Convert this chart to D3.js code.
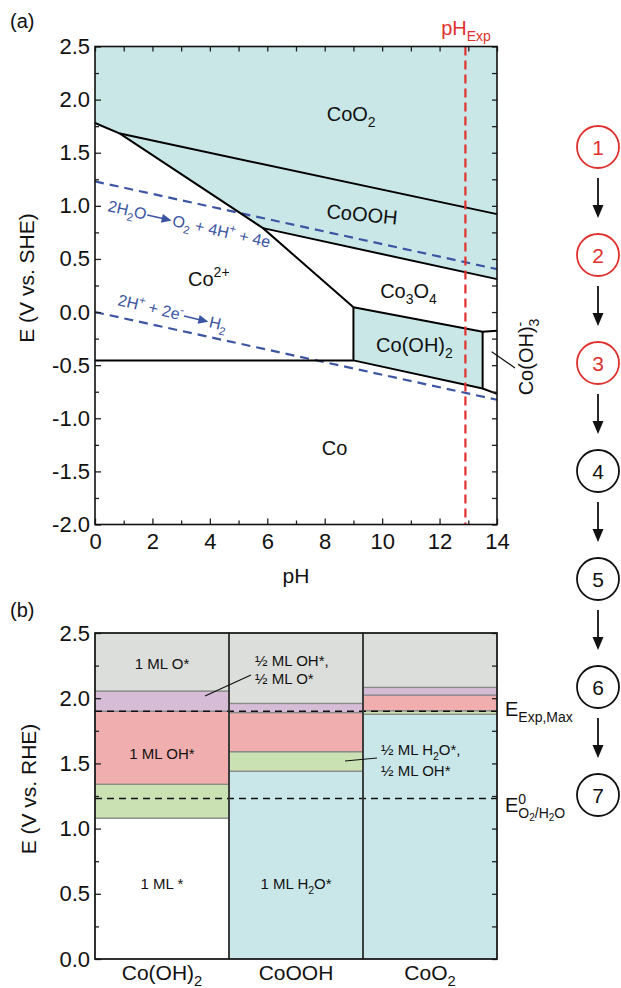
<!DOCTYPE html>
<html>
<head>
<meta charset="utf-8">
<script src="https://cdn.jsdelivr.net/npm/d3@7"></script>
<style>
  body { margin: 0; background: #fff; }
  svg { display: block; font-family: "Liberation Sans", Arial, sans-serif; }
</style>
</head>
<body>
<div id="graphic"></div>
<script>
// ---- (a) Pourbaix diagram data: [pH, E vs SHE] ----
var phDomain = [0, 14];
var sheDomain = [-2, 2.5];
var phTicks = [0, 2, 4, 6, 8, 10, 12, 14];
var phMinor = [1, 3, 5, 7, 9, 11, 13];
var sheTicks = [-2, -1.5, -1, -0.5, 0, 0.5, 1, 1.5, 2, 2.5];
var sheMinor = [-1.75, -1.25, -0.75, -0.25, 0.25, 0.75, 1.25, 1.75, 2.25];

var coO2Boundary = [[0.87, 1.68], [14, 0.922]];
var co2PlusBoundary = [[0, 1.78], [0.87, 1.68], [5.85, 0.79], [9, 0.045]];
var coOOHBoundary = [[5.85, 0.79], [14, 0.31]];
var coOH2Upper = [[9, 0.045], [13.5, -0.185], [14, -0.175]];
var coBoundary = [[0, -0.455], [9, -0.455], [13.5, -0.72], [14, -0.77]];
var coOH2Left = [[9, -0.455], [9, 0.045]];
var coOH2Right = [[13.5, -0.72], [13.5, -0.185]];
var oxideRegion = [[0, 2.5], [14, 2.5], [14, 0.31], [5.85, 0.79], [0.87, 1.68], [0, 1.78]];
var coOH2Region = [[9, 0.045], [13.5, -0.185], [13.5, -0.72], [9, -0.455]];
var o2Line = [[0, 1.23], [14, 0.404]];
var h2Line = [[0, 0], [14, -0.826]];
var phExp = 12.9;

// ---- (b) surface coverage data: E vs RHE ----
var catalysts = ["Co(OH)_2", "CoOOH", "CoO_2"];
var rheTicks = [0, 0.5, 1, 1.5, 2, 2.5];
var rheMinor = [0.25, 0.75, 1.25, 1.75, 2.25];
var levelsCoOH2 = [0, 1.08, 1.34, 1.90, 2.055, 2.5];
var levelsCoOOH = [0, 1.44, 1.59, 1.89, 1.96, 2.5];
var levelsCoO2 = [0, 1.877, 1.904, 2.024, 2.083, 2.5];
var statesCoOH2 = ["bare", "h2o_oh", "oh", "oh_o", "o"];
var statesCoOOH = ["h2o", "h2o_oh", "oh", "oh_o", "o"];
var statesCoO2 = ["h2o", "h2o_oh", "oh", "oh_o", "o"];
var eExpMax = 1.90;
var eO2H2O = 1.23;

// ---- steps ----
var steps = [1, 2, 3, 4, 5, 6, 7];
var redSteps = [1, 2, 3];

var stateColor = {bare: "#ffffff", h2o: "#c9e7e8", h2o_oh: "#c9e1b3", oh: "#f0aeae", oh_o: "#d6bcd6", o: "#dcdedb"};
var red = "#e0312f", blue = "#3b55a2";

var svg = d3.select("#graphic").append("svg").attr("width", 621).attr("height", 988);

function parse(str) {
  var out = [], re = /_\{([^}]*)\}|\^\{([^}]*)\}|_(.)|\^(.)|([^_^]+)/g, m;
  while ((m = re.exec(str))) {
    if (m[1] !== undefined) out.push([m[1], 1]);
    else if (m[2] !== undefined) out.push([m[2], -1]);
    else if (m[3] !== undefined) out.push([m[3], 1]);
    else if (m[4] !== undefined) out.push([m[4], -1]);
    else out.push([m[5], 0]);
  }
  return out;
}

// segments: [text, level, stacked]; level 0 base, 1 sub, -1 sup, 2 sub-sub
function rich(sel, segs, size) {
  var offs = {"0": 0, "1": 0.3, "-1": -0.42, "2": 0.45};
  var scl = {"0": 1, "1": 0.7, "-1": 0.7, "2": 0.5};
  var cur = 0, prev = null;
  segs.forEach(function(s) {
    var lvl = String(s[1] || 0), target = offs[lvl] * size;
    var t = sel.append("tspan").attr("dy", target - cur).attr("font-size", scl[lvl] * size).text(s[0]);
    if (s[2] && prev) t.attr("dx", -prev.node().getComputedTextLength());
    prev = t;
    cur = target;
  });
  return sel;
}

function label(g, str, px, py, size, anchor, color) {
  var t = g.append("text").attr("x", px).attr("y", py).attr("font-size", size)
    .attr("text-anchor", anchor || "start").attr("fill", color || "#111");
  return rich(t, typeof str === "string" ? parse(str) : str, size);
}

// ================= (a) =================
var x = d3.scaleLinear().domain(phDomain).range([95, 497]);
var y = d3.scaleLinear().domain(sheDomain).range([524.5, 46.5]);
var line = d3.line().x(function(d) { return x(d[0]); }).y(function(d) { return y(d[1]); });

var a = svg.append("g");
a.append("path").attr("d", line(oxideRegion) + "Z").attr("fill", "#c9e7e7");
a.append("path").attr("d", line(coOH2Region) + "Z").attr("fill", "#c9e7e7");

[o2Line, h2Line].forEach(function(l) {
  a.append("path").attr("d", line(l)).attr("fill", "none").attr("stroke", blue)
    .attr("stroke-width", 2.2).attr("stroke-dasharray", "9,6");
});

[coO2Boundary, co2PlusBoundary, coOOHBoundary, coOH2Upper, coBoundary, coOH2Left, coOH2Right].forEach(function(l) {
  a.append("path").attr("d", line(l)).attr("fill", "none").attr("stroke", "#000")
    .attr("stroke-width", 2).attr("stroke-linejoin", "miter");
});

a.append("line").attr("x1", x(phExp)).attr("x2", x(phExp)).attr("y1", y(2.5)).attr("y2", y(-2))
  .attr("stroke", red).attr("stroke-width", 2.2).attr("stroke-dasharray", "9,5");

function axes(g, xs, ys, xt, xm, yt, ym, yfmt) {
  var bx = ys.range()[0], tx = ys.range()[1], lx = xs.range()[0], rx = xs.range()[1];
  if (xt) {
    g.append("g").attr("transform", "translate(0," + bx + ")")
      .call(d3.axisBottom(xs).tickValues(xt).tickSize(-6).tickPadding(8.5).tickFormat(d3.format("d")));
    g.append("g").attr("transform", "translate(0," + bx + ")")
      .call(d3.axisBottom(xs).tickValues(xm).tickSize(-4).tickFormat(""));
    g.append("g").attr("transform", "translate(0," + tx + ")")
      .call(d3.axisTop(xs).tickValues(xt.concat(xm)).tickSize(-5).tickFormat(""));
  }
  g.append("g").attr("transform", "translate(" + lx + ",0)")
    .call(d3.axisLeft(ys).tickValues(yt).tickSize(-6).tickPadding(5).tickFormat(yfmt));
  g.append("g").attr("transform", "translate(" + lx + ",0)")
    .call(d3.axisLeft(ys).tickValues(ym).tickSize(-4).tickFormat(""));
  g.append("g").attr("transform", "translate(" + rx + ",0)")
    .call(d3.axisRight(ys).tickValues(yt.concat(ym)).tickSize(-5).tickFormat(""));
  g.selectAll(".domain").remove();
  g.selectAll(".tick line").attr("stroke", "#222").attr("stroke-width", 1.3);
  g.selectAll(".tick text").attr("font-size", 22).attr("fill", "#111");
  g.selectAll("g").attr("font-family", null).attr("font-size", null);
  g.append("rect").attr("x", lx).attr("y", tx).attr("width", rx - lx).attr("height", bx - tx)
    .attr("fill", "none").attr("stroke", "#111").attr("stroke-width", 1.6);
}
var fmt1 = function(d) { return d.toFixed(1); };
axes(a, x, y, phTicks, phMinor, sheTicks, sheMinor, fmt1);

// region labels
label(a, "CoO_2", x(8.07), y(1.80), 20);
a.append("g").attr("transform", "translate(" + x(9.3) + "," + y(0.92) + ") rotate(5.5)")
  .call(function(g) { label(g, "CoOOH", 0, 7, 20, "middle"); });
label(a, "Co^{2+}", x(3.24), y(0.25), 20);
label(a, "Co_3O_4", x(9.93), y(0.136), 20);
label(a, "Co(OH)_2", x(9.79), y(-0.377), 20);
label(a, "Co", x(7.9), y(-1.35), 20);

// Co(OH)3- label with leader
a.append("line").attr("x1", 491.7).attr("y1", 351.7).attr("x2", 515).attr("y2", 368)
  .attr("stroke", "#111").attr("stroke-width", 1.2);
a.append("g").attr("transform", "translate(533,357) rotate(-90)")
  .call(function(g) { label(g, [["Co(OH)", 0], ["-", -1], ["3", 1, true]], 0, 0, 20, "middle"); });

// water reaction labels
function reaction(px, py, ang, left, right) {
  var g = a.append("g").attr("transform", "translate(" + px + "," + py + ") rotate(" + ang + ")");
  var t1 = label(g, left, 0, 0, 16, "start", blue);
  var w = t1.node().getComputedTextLength();
  g.append("line").attr("x1", w + 1).attr("x2", w + 18).attr("y1", -5).attr("y2", -5)
    .attr("stroke", blue).attr("stroke-width", 1.6);
  g.append("path").attr("d", "M" + (w + 26) + ",-5L" + (w + 16) + ",-9.5L" + (w + 16) + ",-0.5Z").attr("fill", blue);
  label(g, right, w + 27, 0, 16, "start", blue);
}
reaction(107, 211, 12.8, "2H_2O", "O_2 + 4H^+ + 4e");
reaction(117, 305, 13.5, "2H^+ + 2e^-", "H_2");

label(a, "pH_{Exp}", 466, 35, 20, "middle", red);
label(a, "(a)", 10, 28, 20);
a.append("text").attr("x", 296).attr("y", 583).attr("text-anchor", "middle").attr("font-size", 21).attr("fill", "#111").text("pH");
a.append("text").attr("transform", "translate(34,278) rotate(-90)").attr("text-anchor", "middle")
  .attr("font-size", 21).attr("fill", "#111").text("E (V vs. SHE)");

// ================= (b) =================
var xb = d3.scaleBand().domain(catalysts).range([95, 497]).padding(0);
var yb = d3.scaleLinear().domain([0, 2.5]).range([959, 633]);
var b = svg.append("g");

var columns = [
  {cat: catalysts[0], levels: levelsCoOH2, states: statesCoOH2},
  {cat: catalysts[1], levels: levelsCoOOH, states: statesCoOOH},
  {cat: catalysts[2], levels: levelsCoO2, states: statesCoO2}
];
columns.forEach(function(c) {
  var bands = c.states.map(function(s, i) { return {state: s, lo: c.levels[i], hi: c.levels[i + 1]}; });
  b.selectAll(null).data(bands).enter().append("rect")
    .attr("x", xb(c.cat)).attr("width", xb.bandwidth())
    .attr("y", function(d) { return yb(d.hi); })
    .attr("height", function(d) { return yb(d.lo) - yb(d.hi); })
    .attr("fill", function(d) { return stateColor[d.state]; })
    .attr("stroke", "#8a8a8a").attr("stroke-width", 1.3);
});

[eExpMax, eO2H2O].forEach(function(e) {
  b.append("line").attr("x1", 95).attr("x2", 497).attr("y1", yb(e)).attr("y2", yb(e))
    .attr("stroke", "#111").attr("stroke-width", 1.5).attr("stroke-dasharray", "7,5");
});
catalysts.slice(1).forEach(function(c) {
  b.append("line").attr("x1", xb(c)).attr("x2", xb(c)).attr("y1", yb(2.5)).attr("y2", yb(0))
    .attr("stroke", "#333").attr("stroke-width", 1.8);
});

axes(b, xb, yb, null, null, rheTicks, rheMinor, fmt1);

catalysts.forEach(function(c) {
  label(b, c, xb(c) + xb.bandwidth() / 2, 980, 21, "middle");
});

// band annotations
var c1 = xb(catalysts[0]) + xb.bandwidth() / 2, c2 = xb(catalysts[1]) + xb.bandwidth() / 2;
label(b, "1 ML O*", c1, 669, 15, "middle");
label(b, "1 ML OH*", c1, 759, 15, "middle");
label(b, "1 ML *", c1, 889, 15, "middle");
label(b, "1 ML H_2O*", c2, 889, 15, "middle");
label(b, "½ ML OH*,", 255, 666, 15);
label(b, "½ ML O*", 255, 684, 15);
b.append("line").attr("x1", 205).attr("y1", 696).attr("x2", 251).attr("y2", 675).attr("stroke", "#111").attr("stroke-width", 1.2);
label(b, "½ ML H_2O*,", 381, 755, 15);
label(b, "½ ML OH*", 381, 776, 15);
b.append("line").attr("x1", 345).attr("y1", 761).attr("x2", 377).attr("y2", 758).attr("stroke", "#111").attr("stroke-width", 1.2);

label(b, "E_{Exp,Max}", 505, 716, 20);
label(b, [["E", 0], ["0", -1], ["O", 1, true], ["2", 2], ["/H", 1], ["2", 2], ["O", 1]], 505, 812, 20);

label(b, "(b)", 10, 617, 20);
b.append("text").attr("transform", "translate(36,789) rotate(-90)").attr("text-anchor", "middle")
  .attr("font-size", 21).attr("fill", "#111").text("E (V vs. RHE)");

// ================= steps =================
var ys = d3.scalePoint().domain(steps).range([147, 795]);
var s = svg.append("g");
steps.forEach(function(n, i) {
  var col = redSteps.indexOf(n) >= 0 ? red : "#111";
  s.append("circle").attr("cx", 598).attr("cy", ys(n)).attr("r", 21)
    .attr("fill", "none").attr("stroke", col).attr("stroke-width", 1.8);
  s.append("text").attr("x", 598).attr("y", ys(n) + 7.5).attr("text-anchor", "middle")
    .attr("font-size", 21).attr("fill", col).text(n);
  if (i < steps.length - 1) {
    var y0 = ys(n) + 31, y1 = ys(n) + 71;
    s.append("line").attr("x1", 598).attr("x2", 598).attr("y1", y0).attr("y2", y1 - 10)
      .attr("stroke", "#111").attr("stroke-width", 1.8);
    s.append("path").attr("d", "M598," + y1 + "L592.5," + (y1 - 13) + "L603.5," + (y1 - 13) + "Z").attr("fill", "#111");
  }
});
</script>
</body>
</html>
